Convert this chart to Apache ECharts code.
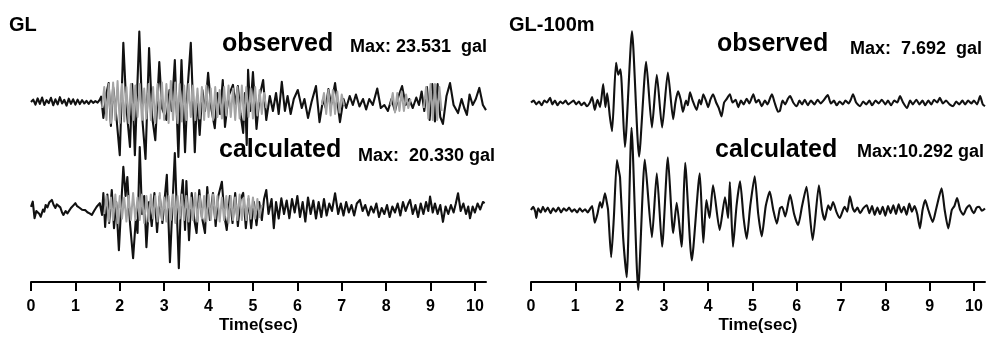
<!DOCTYPE html>
<html>
<head>
<meta charset="utf-8">
<script src="https://cdn.jsdelivr.net/npm/echarts@6.0.0/dist/echarts.min.js"></script>
<style>
  html, body { margin: 0; padding: 0; background: #fff; }
  #chart { width: 992px; height: 342px; }
</style>
</head>
<body>
<div id="chart"></div>
<script>
// time axis ticks (sec)
const timeTicks = [0, 1, 2, 3, 4, 5, 6, 7, 8, 9, 10];

// GL - observed, black trace [time(sec), acc(gal)]
const obsGL = [
  [0,0],[0.05,0.8],[0.1,-0.9],[0.15,1.2],[0.2,-0.6],[0.25,1.5],[0.3,-1.0],[0.35,0.6],[0.4,-0.4],[0.45,1.4],
  [0.5,-1.1],[0.55,0.9],[0.6,-0.8],[0.65,1.6],[0.7,-0.5],[0.75,0.7],[0.8,-1.2],[0.85,1.1],[0.9,-0.6],[0.95,0.9],
  [1.0,-0.9],[1.05,0.8],[1.1,-0.7],[1.15,0.6],[1.2,-0.5],[1.25,0.4],[1.3,-0.6],[1.35,0.5],[1.4,-0.3],[1.45,0.3],
  [1.5,-0.2],[1.55,0.8],[1.58,1.8],[1.63,-5.3],[1.7,3],[1.75,6.3],[1.8,-8],[1.85,5],[1.93,-6],[2.0,-17.7],
  [2.08,19.7],[2.15,-2],[2.23,-15],[2.28,6],[2.34,-17.7],[2.44,23.5],[2.51,-6],[2.58,-19],[2.66,18],[2.73,-5],
  [2.8,-12.7],[2.89,13.3],[2.95,-2],[3.05,-6],[3.12,4],[3.17,-3],[3.24,14],[3.32,-18.3],[3.39,14],[3.47,-16.7],
  [3.53,5],[3.6,19.7],[3.69,-16.7],[3.74,2],[3.8,-11],[3.86,4],[3.92,-3],[3.99,9.7],[4.06,-2],[4.14,-8.7],
  [4.2,3],[4.26,-4],[4.32,7.3],[4.37,-8.3],[4.45,2],[4.55,5.7],[4.6,-1],[4.66,5.3],[4.72,-4],[4.78,-10.3],
  [4.82,3],[4.86,-14.3],[4.89,10.7],[4.94,-3],[5.0,10],[5.08,-9],[5.15,2],[5.23,7.3],[5.3,-6],[5.38,2],
  [5.45,-3],[5.52,3],[5.58,-4],[5.65,6.7],[5.72,-3],[5.78,2],[5.85,-4],[5.92,1],[6.01,4],[6.1,-2],
  [6.16,1],[6.24,-5.3],[6.32,0],[6.42,5.3],[6.5,-6.7],[6.58,1],[6.64,-2],[6.7,4.3],[6.76,-1],[6.85,6.3],
  [6.96,-6.7],[7.04,1],[7.1,-2],[7.18,2],[7.25,-1],[7.32,2.5],[7.4,-1.5],[7.48,1],[7.55,-2.5],[7.62,1],
  [7.7,-1],[7.8,4.5],[7.88,-2],[7.96,-1],[8.04,-3],[8.12,1],[8.2,-3],[8.28,2],[8.36,5.3],[8.44,-1],
  [8.52,1],[8.6,-2],[8.68,1.5],[8.74,-1],[8.8,3.5],[8.86,-3],[8.92,5],[8.98,-6],[9.04,6],[9.1,-6.5],
  [9.16,6],[9.22,-5],[9.28,-7.3],[9.36,2],[9.44,6.3],[9.52,-1],[9.62,-3.7],[9.7,1],[9.76,-2],[9.82,-4.3],
  [9.88,2.5],[9.95,-1],[10.02,1],[10.1,4.7],[10.18,-1],[10.25,-2.7]
];
// GL - observed, grey high-frequency trace ('-' = gap)
const obsGLgrey = [
  [1.6,-2],[1.65,5],[1.7,-6],[1.75,6],[1.8,-7],[1.85,6.5],[1.9,-6],[1.95,7],[2.0,-7],[2.05,6],
  [2.1,-6.5],[2.15,5],[2.2,-7],[2.25,6],[2.3,-6],[2.35,5.5],[2.4,-5],[2.45,6],[2.5,-6],[2.55,4.5],
  [2.6,-5.5],[2.65,6],[2.7,-6],[2.75,5],[2.8,-7],[2.85,6],[2.9,-5.5],[2.95,6.5],[3.0,-6],[3.05,6],
  [3.1,-7],[3.15,7],[3.2,-6],[3.25,6.5],[3.3,-7],[3.35,6],[3.4,-6.5],[3.45,5.5],[3.5,-6],[3.55,6],
  [3.6,-5],[3.65,5.5],[3.7,-6],[3.75,4.5],[3.8,-5.5],[3.85,5],[3.9,-6],[3.95,5.5],[4.0,-5],[4.05,4.5],
  [4.1,-6],[4.15,5],[4.2,-5],[4.25,4],[4.3,-5.5],[4.35,5],[4.4,-4.5],[4.45,5.5],[4.5,-5],[4.55,4.5],
  [4.6,-6],[4.65,5],[4.7,-5.5],[4.75,5.5],[4.8,-6],[4.85,5],[4.9,-5],[4.95,4.5],[5.0,-5.5],[5.05,5],
  [5.1,-4.5],[5.15,4],[5.2,-4],[5.25,3],[5.3,-2],[5.32,'-'],
  [6.55,-1],[6.6,3],[6.65,-4],[6.7,4],[6.75,-4.5],[6.8,4],[6.85,-4],[6.9,3.5],[6.95,-3.5],[7.0,2.5],[7.05,-1],[7.07,'-'],
  [8.1,-1],[8.15,3],[8.2,-3.5],[8.25,3],[8.3,-3],[8.35,3.5],[8.4,-3],[8.45,2.5],[8.5,-2],[8.55,1],[8.57,'-'],
  [8.85,-2],[8.9,5],[8.95,-5.5],[9.0,6],[9.05,-6],[9.1,6],[9.15,-6],[9.2,5],[9.25,-3]
];

// GL - calculated, black trace
const calGL = [
  [0,0.4],[0.04,2.1],[0.08,-3.4],[0.12,-1],[0.15,-0.7],[0.19,-2],[0.22,-2.9],[0.27,-0.5],[0.3,-1.2],[0.33,1.0],
  [0.37,0.2],[0.41,1.8],[0.47,2.7],[0.51,1],[0.55,0],[0.58,1.2],[0.62,1.6],[0.66,0.2],[0.7,-1.5],[0.73,-2.3],
  [0.78,-1],[0.82,-1.8],[0.85,-1.2],[0.9,0],[0.95,0.8],[1.0,1.6],[1.04,0.6],[1.1,0],[1.15,-0.6],[1.22,-0.7],
  [1.27,-1.4],[1.32,-1.8],[1.37,-2.3],[1.42,-1],[1.48,0.4],[1.52,1],[1.55,1.6],[1.6,-2.3],[1.63,5],[1.67,-6.3],
  [1.72,4.5],[1.76,-5],[1.82,6],[1.87,-6.7],[1.92,2],[1.98,-14],[2.04,3],[2.08,13.7],[2.13,4],[2.17,10.3],
  [2.23,-5],[2.3,-16.7],[2.36,-4],[2.4,-8.3],[2.45,20.3],[2.5,-2],[2.55,4],[2.6,-13],[2.66,2],[2.72,-6],
  [2.78,5],[2.84,-8],[2.9,4],[2.96,-5],[3.01,3],[3.06,11],[3.13,-18],[3.19,2],[3.24,18.3],[3.33,-20],
  [3.38,3],[3.42,9.3],[3.47,-7.3],[3.5,9],[3.56,-10.7],[3.62,5],[3.68,-4],[3.73,-8.3],[3.79,6],[3.85,-3],
  [3.92,-8.3],[3.97,7],[4.03,-4],[4.1,5],[4.16,-6],[4.22,4],[4.3,8.7],[4.36,-3],[4.41,-7.3],[4.48,4],
  [4.54,-5],[4.6,5],[4.66,-6],[4.72,3],[4.78,5],[4.84,-6.7],[4.9,3],[4.96,-6.7],[5.02,2],[5.08,-5.7],
  [5.14,2],[5.2,-4],[5.25,3],[5.3,6],[5.35,-2],[5.42,3],[5.47,-6.7],[5.52,2],[5.58,-3.5],[5.64,3.2],
  [5.7,-2],[5.76,2.5],[5.82,-3.4],[5.88,3],[5.94,-1.5],[6.0,4],[6.06,-3],[6.12,2],[6.18,-4.5],[6.24,3.5],
  [6.3,-2],[6.36,2.5],[6.42,-3.5],[6.48,2],[6.54,-3],[6.6,3],[6.66,-2.5],[6.72,1.5],[6.78,-1],[6.85,4.9],
  [6.92,-2],[6.98,1.5],[7.04,-2.5],[7.1,2],[7.16,-1.5],[7.22,1],[7.28,-2.5],[7.34,1.5],[7.41,2.7],[7.47,-1],
  [7.53,1],[7.6,-2.5],[7.66,0.5],[7.72,-1.5],[7.78,1.5],[7.84,-3],[7.9,0],[7.96,-2],[8.02,1],[8.08,-3],
  [8.14,0.5],[8.2,-1.5],[8.26,1.5],[8.32,-2.5],[8.38,2],[8.44,-1],[8.5,1.5],[8.54,2.7],[8.6,-2],[8.66,1],
  [8.72,-3],[8.78,1.5],[8.84,-2],[8.9,2],[8.95,-1],[8.99,3.8],[9.05,-1.5],[9.1,1.5],[9.16,-2],[9.22,1],
  [9.28,-4.6],[9.34,0.5],[9.4,-2],[9.46,1],[9.52,-1.5],[9.57,1.5],[9.62,4.9],[9.68,-1],[9.74,1.5],[9.8,-2],
  [9.85,0.5],[9.89,-3.4],[9.95,0.5],[10.0,-1.5],[10.06,1.5],[10.12,-0.5],[10.18,2],[10.22,1.6]
];
// GL - calculated, grey high-frequency trace
const calGLgrey = [
  [1.65,-2],[1.7,4],[1.75,-4.5],[1.8,3.5],[1.85,-4],[1.9,4.5],[1.95,-5],[2.0,4],[2.05,-3.5],[2.1,3.5],
  [2.15,-4.5],[2.2,4],[2.25,-4],[2.3,5],[2.35,-4],[2.4,3.5],[2.45,-4],[2.5,4.5],[2.55,-5],[2.6,4],
  [2.65,-4.5],[2.7,4.5],[2.75,-3.5],[2.8,4],[2.85,-4.5],[2.9,5],[2.95,-4],[3.0,3.5],[3.05,-4.5],[3.1,4],
  [3.15,-4],[3.2,4.5],[3.25,-5],[3.3,4],[3.35,-3.5],[3.4,4.5],[3.45,-4],[3.5,4],[3.55,-4.5],[3.6,3.5],
  [3.65,-4],[3.7,5],[3.75,-4.5],[3.8,4],[3.85,-3.5],[3.9,4],[3.95,-4.5],[4.0,4.5],[4.05,-4],[4.1,4.5],
  [4.15,-3.5],[4.2,4],[4.25,-4.5],[4.3,3.5],[4.35,-4],[4.4,4],[4.45,-5],[4.5,4],[4.55,-4],[4.6,3.5],
  [4.65,-4],[4.7,4.5],[4.75,-4],[4.8,3.5],[4.85,-4],[4.9,4],[4.95,-3.5],[5.0,3.5],[5.05,-3.5],[5.1,3],
  [5.15,-3],[5.2,1]
];

// GL-100m - observed
const obs100 = [
  [0,0],[0.06,0.2],[0.12,-0.2],[0.18,0.1],[0.24,-0.3],[0.3,0.2],[0.36,0],[0.43,0.5],[0.48,-0.2],[0.54,0.2],
  [0.6,-0.3],[0.66,0.1],[0.72,-0.1],[0.78,0.2],[0.84,-0.2],[0.9,0],[0.96,0.2],[1.02,-0.2],[1.08,0.1],[1.14,-0.3],
  [1.2,0],[1.26,-0.4],[1.33,0],[1.38,0.6],[1.44,-0.8],[1.5,0.3],[1.56,-0.5],[1.63,2.0],[1.68,-0.5],[1.72,1.0],
  [1.78,-1.5],[1.83,-3.1],[1.92,4.3],[1.97,3.0],[2.02,3.6],[2.12,-4.8],[2.28,7.69],[2.44,-5.85],[2.6,4.4],[2.73,-2.7],
  [2.84,3.0],[2.96,-2.7],[3.09,3.25],[3.21,-1.8],[3.26,0],[3.32,1.2],[3.38,0.3],[3.43,-1.0],[3.5,0.2],[3.54,-0.3],
  [3.59,1.1],[3.65,0.2],[3.74,-0.8],[3.8,0.3],[3.84,-0.2],[3.89,0.9],[3.95,0.2],[4.0,-0.5],[4.05,0.3],[4.11,0.9],
  [4.18,0],[4.24,-0.6],[4.3,-1.5],[4.36,0],[4.42,0.4],[4.49,0.9],[4.55,0],[4.62,0.3],[4.68,-0.5],[4.74,0.2],
  [4.8,-0.2],[4.87,0.4],[4.93,-0.1],[5.02,0.9],[5.08,0],[5.14,0.3],[5.21,-0.4],[5.28,0.2],[5.34,-0.2],[5.4,0.5],
  [5.44,0.9],[5.5,0],[5.58,-1.0],[5.62,-0.9],[5.68,0.2],[5.74,-0.2],[5.8,0.4],[5.85,0.7],[5.92,0],[6.0,-0.4],
  [6.06,0.2],[6.12,-0.2],[6.18,0.3],[6.25,-0.3],[6.32,0.2],[6.4,-0.2],[6.47,0.3],[6.54,-0.1],[6.6,0.2],[6.7,0.8],
  [6.77,-0.1],[6.84,0.2],[6.9,-0.3],[6.97,0.1],[7.04,-0.2],[7.1,0.2],[7.17,-0.1],[7.22,0.3],[7.27,0.9],[7.34,0],
  [7.43,-0.4],[7.5,0.1],[7.57,-0.2],[7.64,0.2],[7.7,-0.3],[7.78,0.2],[7.85,-0.1],[7.92,0.3],[8.0,-0.2],[8.06,0.2],
  [8.13,-0.3],[8.2,0.2],[8.27,0],[8.33,0.7],[8.4,0],[8.49,-0.6],[8.56,0.2],[8.62,-0.2],[8.7,0.3],[8.77,-0.2],
  [8.84,0.2],[8.9,-0.3],[8.97,0.2],[9.04,-0.2],[9.1,0.3],[9.17,0],[9.23,0.5],[9.3,-0.1],[9.37,0.2],[9.45,-0.2],
  [9.53,-0.4],[9.6,0.1],[9.67,-0.2],[9.74,0.2],[9.8,-0.2],[9.87,0.2],[9.94,-0.1],[10.0,0.2],[10.07,-0.2],[10.14,0.7],
  [10.2,-0.2],[10.25,-0.4]
];

// GL-100m - calculated
const cal100 = [
  [0,0],[0.05,0.4],[0.1,-0.3],[0.12,-1.0],[0.16,0.2],[0.22,-0.3],[0.27,0.4],[0.32,-0.2],[0.38,0.3],[0.44,-0.4],
  [0.5,0.2],[0.56,-0.2],[0.62,0.3],[0.68,-0.3],[0.74,0.2],[0.8,-0.1],[0.86,0.3],[0.92,-0.2],[0.98,0.1],[1.04,-0.3],
  [1.1,0.2],[1.16,-0.2],[1.22,0.1],[1.28,-0.3],[1.34,0.2],[1.38,0.5],[1.44,-1.6],[1.5,-0.5],[1.56,1.0],[1.6,0.3],
  [1.67,2.1],[1.71,1.0],[1.74,0],[1.81,-5.9],[1.87,-1],[1.94,6.25],[1.98,5.0],[2.01,4.1],[2.08,-3.4],[2.16,-8.4],
  [2.27,10.29],[2.42,-10.0],[2.57,6.3],[2.73,-3.4],[2.84,4.6],[2.96,-4.6],[3.09,6.6],[3.21,-2.9],[3.29,0.9],[3.4,-4.6],
  [3.48,5.9],[3.63,-6.3],[3.81,4.6],[3.89,-4.1],[3.96,1.25],[4.03,-1],[4.11,3.1],[4.26,-2.5],[4.38,1.6],[4.45,-1],
  [4.49,3.5],[4.56,-4.6],[4.64,0.5],[4.72,3.6],[4.8,-1],[4.87,-3.6],[4.95,0.5],[5.05,4.2],[5.13,-0.5],[5.21,-3.3],
  [5.3,0.5],[5.39,2.3],[5.47,0],[5.55,-1.7],[5.62,0.2],[5.67,0.4],[5.74,-0.8],[5.85,1.9],[5.94,-0.5],[6.03,-1.9],
  [6.12,0.5],[6.22,2.9],[6.36,-3.75],[6.5,3.1],[6.57,0],[6.63,-1.25],[6.71,0.6],[6.76,0],[6.82,1.0],[6.9,-0.3],
  [6.97,-1.0],[7.08,0.4],[7.14,-0.2],[7.2,1.7],[7.26,0.3],[7.31,-0.2],[7.37,0.3],[7.43,-0.4],[7.5,0.2],[7.58,0.6],
  [7.64,-0.4],[7.7,0.5],[7.76,-0.6],[7.82,0.3],[7.88,-0.5],[7.94,0.4],[8.0,-0.7],[8.06,0.5],[8.12,-0.4],[8.18,0.6],
  [8.24,-0.5],[8.3,0.7],[8.36,-0.3],[8.42,0.4],[8.48,-0.6],[8.54,0.8],[8.6,-0.2],[8.66,0.5],[8.72,-0.5],[8.78,-2.3],
  [8.84,0],[8.9,1.25],[8.97,0],[9.07,-1.5],[9.15,0.2],[9.27,2.7],[9.34,0],[9.42,-2.3],[9.5,0],[9.56,0.5],
  [9.62,1.5],[9.69,0],[9.76,-0.6],[9.83,0.2],[9.9,0.6],[9.95,0],[10.0,-0.4],[10.06,0.3],[10.12,0.4],[10.18,-0.1],
  [10.25,0.2]
];

const FONT = "'Liberation Sans', Arial, sans-serif";

document.addEventListener('DOMContentLoaded', function() {
  const chart = echarts.init(document.getElementById('chart'));

  function timeAxis(gridIndex, show) {
    return {
      gridIndex: gridIndex,
      type: 'value',
      min: 0,
      max: 10.25,
      show: show,
      axisLine: { onZero: false, lineStyle: { color: '#000', width: 2 } },
      axisTick: { customValues: timeTicks, length: 9, lineStyle: { color: '#000', width: 2 } },
      axisLabel: { customValues: timeTicks, color: '#000', fontFamily: FONT, fontWeight: 'bold', fontSize: 16, margin: 17 },
      splitLine: { show: false },
      name: show ? 'Time(sec)' : '',
      nameLocation: 'middle',
      nameGap: 35,
      nameTextStyle: { color: '#000', fontFamily: FONT, fontWeight: 'bold', fontSize: 17 }
    };
  }
  function ampAxis(gridIndex, lim) {
    return { gridIndex: gridIndex, type: 'value', min: -lim, max: lim, show: false };
  }
  function trace(data, idx, color, width, z, smooth) {
    return {
      type: 'line', xAxisIndex: idx, yAxisIndex: idx, data: data,
      symbol: 'none', clip: false, connectNulls: false, z: z, smooth: smooth || false,
      lineStyle: { color: color, width: width, join: 'round' }
    };
  }
  function label(text, x, y, size) {
    return { type: 'text', x: x, y: y, style: { text: text, fill: '#000', font: 'bold ' + size + 'px ' + FONT, verticalAlign: 'middle' } };
  }

  const option = {
    animation: false,
    backgroundColor: '#fff',
    grid: [
      { left: 31, width: 455, top: 12, height: 180 },
      { left: 31, width: 455, top: 134, height: 148 },
      { left: 531, width: 454, top: 10, height: 185 },
      { left: 531, width: 454, top: 138, height: 144 }
    ],
    xAxis: [timeAxis(0, false), timeAxis(1, true), timeAxis(2, false), timeAxis(3, true)],
    yAxis: [ampAxis(0, 30), ampAxis(1, 24.6), ampAxis(2, 10), ampAxis(3, 9)],
    series: [
      trace(obsGL, 0, '#111', 2.1, 2),
      trace(obsGLgrey, 0, '#a4a4a4', 2, 3),
      trace(calGL, 1, '#111', 2.1, 2),
      trace(calGLgrey, 1, '#a4a4a4', 2, 3),
      trace(obs100, 2, '#111', 2.1, 2, 0.2),
      trace(cal100, 3, '#111', 2.1, 2, 0.2)
    ],
    graphic: [
      label('GL', 9, 25, 20),
      label('GL-100m', 509, 25, 20),
      label('observed', 222, 44, 25),
      label('Max: 23.531  gal', 350, 47, 18),
      label('calculated', 219, 150, 25),
      label('Max:  20.330 gal', 358, 156, 18),
      label('observed', 717, 44, 25),
      label('Max:  7.692  gal', 850, 49, 18),
      label('calculated', 715, 150, 25),
      label('Max:10.292 gal', 857, 152, 18)
    ]
  };
  chart.setOption(option);
});
</script>
</body>
</html>
